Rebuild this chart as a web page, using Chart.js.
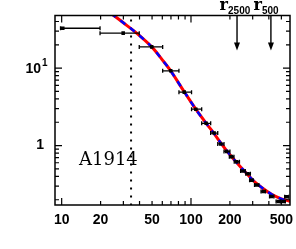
<!DOCTYPE html>
<html>
<head>
<meta charset="utf-8">
<script src="https://cdn.jsdelivr.net/npm/chart.js@4.4.0/dist/chart.umd.min.js"></script>
<style>
  html, body { margin: 0; padding: 0; background: #fff; }
  #wrap { position: relative; width: 296px; height: 249px; }
</style>
</head>
<body>
<div id="wrap"><canvas id="chart-profile"></canvas></div>
<script>
// --- datos del perfil ---
const radius   = [10.2, 29.9, 49.7, 69.7, 88.7, 109, 131, 151, 170, 189, 206, 226, 252, 276, 293, 322, 362, 421, 473, 517, 550];
const profile  = [32.7, 28.3, 18.8, 9.23, 4.9, 2.95, 1.94, 1.45, 1.05, 0.84, 0.72, 0.62, 0.47, 0.434, 0.356, 0.31, 0.255, 0.22, 0.19, 0.19, 0.218];
const radiusLo = [9.8, 19.8, 39.8, 60.4, 80.7, 101, 121, 142, 161, 180, 198, 216, 242, 265, 284, 310, 348, 405, 455, 498, 530];
const radiusHi = [19.8, 39.8, 60.4, 80.7, 101, 121, 142, 161, 180, 200, 215, 237, 263, 288, 303, 335, 377, 438, 492, 537, 570];

// curva del modelo
const modelR = [24, 30, 38, 49.7, 60, 69.7, 88.7, 109, 131, 151, 170, 200, 250, 300, 350, 420, 500, 590];
const modelY = [51, 38.5, 28.3, 18.8, 12.8, 9.2, 4.95, 2.95, 1.94, 1.43, 1.08, 0.76, 0.5, 0.36, 0.29, 0.235, 0.205, 0.19];

// ejes
const xMajorTicks = [10, 100];
const xMinorTicks = [20, 30, 40, 50, 60, 70, 80, 90, 200, 300, 400, 500];
const xTickLabels = [10, 20, 50, 100, 200, 500];
const yMajorTicks = [1, 10];
const yMinorTicks = [0.2, 0.3, 0.4, 0.5, 0.6, 0.7, 0.8, 0.9, 2, 3, 4, 5, 6, 7, 8, 9, 20, 30, 40];

// marcas
const rCore = 34.4;
const overdensityR = [227, 415];
const overdensityLabel = ["2500", "500"];
const clusterName = "A1914";

const toXY = (xs, ys) => xs.map((x, i) => ({ x: x, y: ys[i] }));

const decoPlugin = {
    id: "deco",
    beforeDatasetsDraw(chart) {
        const ctx = chart.ctx;
        const xs = chart.scales.x;
        const a = chart.chartArea;
        ctx.save();
        // linea punteada
        const xc = xs.getPixelForValue(rCore);
        ctx.strokeStyle = "#000";
        ctx.lineWidth = 2;
        ctx.setLineDash([2, 6]);
        ctx.beginPath();
        ctx.moveTo(xc, a.top + 4);
        ctx.lineTo(xc, a.bottom);
        ctx.stroke();
        ctx.setLineDash([]);
        ctx.restore();
    },
    afterDatasetsDraw(chart) {
        const ctx = chart.ctx;
        const xs = chart.scales.x, ys = chart.scales.y;
        const a = chart.chartArea;
        ctx.save();
        ctx.beginPath();
        ctx.rect(a.left, a.top, a.right - a.left, a.bottom - a.top);
        ctx.clip();
        // barras de error
        ctx.strokeStyle = "#000";
        ctx.lineWidth = 1.3;
        radius.forEach((r, i) => {
            const y = ys.getPixelForValue(profile[i]);
            const x0 = xs.getPixelForValue(radiusLo[i]);
            const x1 = xs.getPixelForValue(radiusHi[i]);
            ctx.beginPath();
            ctx.moveTo(x0, y); ctx.lineTo(x1, y);
            ctx.moveTo(x0, y - 2); ctx.lineTo(x0, y + 2);
            ctx.moveTo(x1, y - 2); ctx.lineTo(x1, y + 2);
            ctx.stroke();
        });
        ctx.restore();

        ctx.save();
        // marco
        ctx.strokeStyle = "#000";
        ctx.lineWidth = 1.5;
        ctx.strokeRect(a.left, a.top, a.right - a.left, a.bottom - a.top);
        // ticks hacia dentro
        ctx.lineWidth = 1.2;
        ctx.beginPath();
        const xt = (v, len) => {
            const p = xs.getPixelForValue(v);
            ctx.moveTo(p, a.bottom); ctx.lineTo(p, a.bottom - len);
            ctx.moveTo(p, a.top); ctx.lineTo(p, a.top + len);
        };
        const yt = (v, len) => {
            const p = ys.getPixelForValue(v);
            ctx.moveTo(a.left, p); ctx.lineTo(a.left + len, p);
            ctx.moveTo(a.right, p); ctx.lineTo(a.right - len, p);
        };
        xMajorTicks.forEach(v => xt(v, 7));
        xMinorTicks.forEach(v => xt(v, 4));
        yMajorTicks.forEach(v => yt(v, 7));
        yMinorTicks.forEach(v => yt(v, 4));
        ctx.stroke();

        // etiquetas
        ctx.fillStyle = "#000";
        ctx.font = "bold 14px 'Liberation Sans', Arial, sans-serif";
        ctx.textAlign = "center";
        ctx.textBaseline = "alphabetic";
        xTickLabels.forEach(v => {
            ctx.fillText(String(v), xs.getPixelForValue(v), a.bottom + 19);
        });
        ctx.textAlign = "right";
        ctx.textBaseline = "middle";
        ctx.fillText("1", 44, ys.getPixelForValue(1));
        ctx.fillText("10", 41, ys.getPixelForValue(10) + 1);
        ctx.font = "bold 10px 'Liberation Sans', Arial, sans-serif";
        ctx.textAlign = "left";
        ctx.fillText("1", 42, ys.getPixelForValue(10) - 5);

        // flechas r2500 / r500
        ctx.lineWidth = 1.4;
        overdensityR.forEach((r, i) => {
            const x = xs.getPixelForValue(r);
            const yEnd = a.top + 35;
            ctx.beginPath();
            ctx.moveTo(x, a.top); ctx.lineTo(x, yEnd - 6);
            ctx.stroke();
            ctx.beginPath();
            ctx.moveTo(x, yEnd);
            ctx.lineTo(x - 3, yEnd - 8);
            ctx.lineTo(x + 3, yEnd - 8);
            ctx.closePath();
            ctx.fill();
            ctx.font = "bold 16px 'DejaVu Serif', serif";
            ctx.textAlign = "right";
            ctx.textBaseline = "alphabetic";
            ctx.fillText("r", x - 9, 10);
            ctx.font = "bold 10px 'Liberation Sans', Arial, sans-serif";
            ctx.textAlign = "left";
            ctx.fillText(overdensityLabel[i], x - 9, 14);
        });

        // nombre del cumulo
        ctx.font = "18px 'DejaVu Serif', serif";
        ctx.textAlign = "left";
        ctx.textBaseline = "alphabetic";
        ctx.fillText(clusterName, 79, 165);
        ctx.restore();
    }
};

const ctxProfile = document.getElementById("chart-profile");
new Chart(ctxProfile, {
    type: "scatter",
    data: {
        datasets: [
            {
                label: "datos",
                data: toXY(radius, profile),
                pointStyle: "rect",
                pointRadius: 2.5,
                backgroundColor: "#000",
                borderColor: "#000",
                borderWidth: 0
            },
            {
                type: "line",
                label: "modelo 2",
                data: toXY(modelR, modelY),
                borderColor: "#0000ff",
                borderWidth: 2.5,
                borderDash: [6, 6],
                pointRadius: 0,
                fill: false,
                tension: 0.35
            },
            {
                type: "line",
                label: "modelo 1",
                data: toXY(modelR, modelY),
                borderColor: "#ff0000",
                borderWidth: 3,
                pointRadius: 0,
                fill: false,
                tension: 0.35
            }
        ]
    },
    options: {
        responsive: true,
        maintainAspectRatio: false,
        animation: false,
        events: [],
        layout: { padding: { left: 55, right: 6, top: 15.5, bottom: 44 } },
        plugins: { legend: { display: false }, tooltip: { enabled: false } },
        scales: {
            x: { type: "logarithmic", min: 8.88, max: 583, display: false },
            y: { type: "logarithmic", min: 0.171, max: 47.8, display: false }
        }
    },
    plugins: [decoPlugin]
});
</script>
</body>
</html>
